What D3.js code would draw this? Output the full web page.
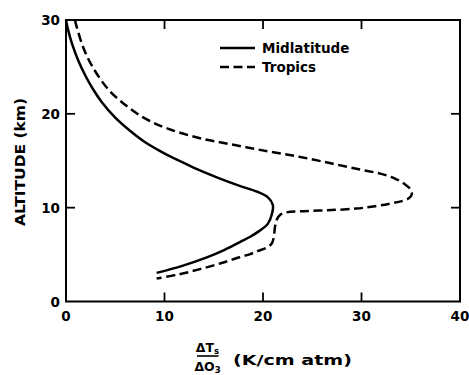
<!DOCTYPE html>
<html>
<head>
<meta charset="utf-8">
<script src="https://cdn.jsdelivr.net/npm/d3@7"></script>
<style>
  html, body { margin: 0; padding: 0; background: #fff; }
  svg text { font-family: "DejaVu Sans", "Liberation Sans", sans-serif; font-weight: bold; fill: #000; }
</style>
</head>
<body>
<svg id="chart" width="469" height="375"></svg>
<script>
// Sensitivity of surface temperature to ozone change, by altitude of the change
// Each point: [dTs/dO3 (K/cm atm), altitude (km)], ordered along the curve
const midlatitude = [
  [0, 30], [0.2, 29.0], [0.6, 27.5], [1.2, 25.8], [2.0, 24.0], [2.7, 22.7],
  [3.6, 21.3], [5.0, 19.6], [6.5, 18.2], [8.0, 17.0], [9.7, 15.95],
  [11.5, 15.0], [13.3, 14.1], [15.5, 13.15], [17.7, 12.3], [19.4, 11.7],
  [20.5, 11.1], [21.0, 10.3], [20.9, 9.3], [20.5, 8.3], [19.6, 7.5],
  [18.7, 6.9], [17.7, 6.35], [16.1, 5.5], [14.3, 4.7], [11.8, 3.8], [9.2, 3.05]
];
const tropics = [
  [0.9, 30], [1.7, 27.2], [2.7, 25.0], [4.3, 22.6], [6.2, 20.8], [8.2, 19.4],
  [10.4, 18.4], [13.6, 17.4], [17.0, 16.7], [20.5, 16.0], [23.8, 15.4],
  [27.0, 14.7], [29.9, 14.05], [32.0, 13.6], [33.4, 13.1], [34.4, 12.5],
  [35.0, 11.9], [35.1, 11.4], [34.8, 11.0], [34.1, 10.7], [33.0, 10.45],
  [31.4, 10.15], [29.4, 9.9], [26.5, 9.72], [23.8, 9.62], [22.4, 9.5],
  [21.7, 9.2], [21.35, 8.6], [21.2, 7.8], [21.1, 6.9], [20.9, 6.2],
  [20.4, 5.75], [19.5, 5.4], [18.7, 5.05], [17.7, 4.75], [15.8, 4.1],
  [13.6, 3.45], [11.5, 2.9], [9.2, 2.45]
];
const xTicks = [0, 10, 20, 30, 40];
const yTicks = [0, 10, 20, 30];
const seriesNames = ["Midlatitude", "Tropics"];

const svg = d3.select("#chart");
const mLeft = 66, mRight = 460, mTop = 20, mBottom = 301.5;

const x = d3.scaleLinear().domain([0, 40]).range([mLeft, mRight]);
const y = d3.scaleLinear().domain([0, 30]).range([mBottom, mTop]);

// Frame
svg.append("rect")
  .attr("x", mLeft).attr("y", mTop)
  .attr("width", mRight - mLeft).attr("height", mBottom - mTop)
  .attr("fill", "none").attr("stroke", "#000").attr("stroke-width", 2);

const tickLen = 9;
const innerX = xTicks.filter(v => v > 0 && v < 40);
const innerY = yTicks.filter(v => v > 0 && v < 30);

// Inward ticks on all four sides
const tickG = svg.append("g").attr("stroke", "#000").attr("stroke-width", 1.8);
innerX.forEach(v => {
  tickG.append("line").attr("x1", x(v)).attr("x2", x(v)).attr("y1", mBottom).attr("y2", mBottom - tickLen);
  tickG.append("line").attr("x1", x(v)).attr("x2", x(v)).attr("y1", mTop).attr("y2", mTop + tickLen);
});
innerY.forEach(v => {
  tickG.append("line").attr("x1", mLeft).attr("x2", mLeft + tickLen).attr("y1", y(v)).attr("y2", y(v));
  tickG.append("line").attr("x1", mRight).attr("x2", mRight - tickLen).attr("y1", y(v)).attr("y2", y(v));
});

// Tick labels
svg.append("g").selectAll("text").data(xTicks).join("text")
  .attr("x", d => x(d)).attr("y", mBottom + 19)
  .attr("text-anchor", "middle").attr("font-size", 13.5)
  .text(d => d);
svg.append("g").selectAll("text").data(yTicks).join("text")
  .attr("x", mLeft - 6).attr("y", d => y(d) + 5)
  .attr("text-anchor", "end").attr("font-size", 13.5)
  .text(d => d);

// Axis titles
svg.append("text")
  .attr("transform", "translate(24.5,162) rotate(-90)")
  .attr("text-anchor", "middle").attr("font-size", 14.5)
  .attr("textLength", 128).attr("lengthAdjust", "spacingAndGlyphs")
  .text("ALTITUDE (km)");

const xt = svg.append("g").attr("font-size", 12.5);
xt.append("text").attr("x", 207.5).attr("y", 352).attr("text-anchor", "middle")
  .html('ΔT<tspan font-size="8.5" dy="2">s</tspan>');
xt.append("line").attr("x1", 197).attr("x2", 218.5).attr("y1", 356).attr("y2", 356)
  .attr("stroke", "#000").attr("stroke-width", 1.6);
xt.append("text").attr("x", 207.5).attr("y", 371).attr("text-anchor", "middle")
  .html('ΔO<tspan font-size="8.5" dy="2">3</tspan>');
xt.append("text").attr("x", 233).attr("y", 364.5).attr("font-size", 14.5)
  .attr("textLength", 119).attr("lengthAdjust", "spacingAndGlyphs")
  .text("(K/cm  atm)");

// Curves
const line = d3.line()
  .x(d => x(d[0])).y(d => y(d[1]))
  .curve(d3.curveCatmullRom.alpha(0.5));

svg.append("path").datum(midlatitude)
  .attr("d", line).attr("fill", "none")
  .attr("stroke", "#000").attr("stroke-width", 2.5);
svg.append("path").datum(tropics)
  .attr("d", line).attr("fill", "none")
  .attr("stroke", "#000").attr("stroke-width", 2.5)
  .attr("stroke-dasharray", "9,4.5");

// Legend
const legend = svg.append("g");
[["none", 0], ["9,4.5", 1]].forEach(([dash, i]) => {
  const ly = 48 + i * 19;
  legend.append("line").attr("x1", 220).attr("x2", 255).attr("y1", ly).attr("y2", ly)
    .attr("stroke", "#000").attr("stroke-width", 2.5)
    .attr("stroke-dasharray", dash === "none" ? null : dash);
  legend.append("text").attr("x", 262).attr("y", ly + 5).attr("font-size", 13.5)
    .text(seriesNames[i]);
});
</script>
</body>
</html>
